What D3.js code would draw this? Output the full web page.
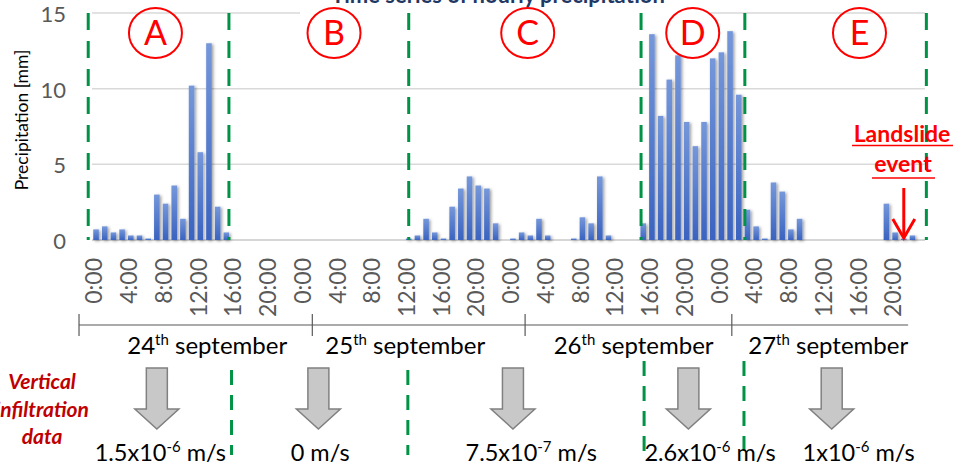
<!DOCTYPE html>
<html><head><meta charset="utf-8">
<script src="https://cdn.jsdelivr.net/npm/d3@7"></script>
<style>body{margin:0;background:#fff;overflow:hidden}svg{display:block;font-family:Lato,"Open Sans",sans-serif}</style>
</head><body><svg id="c" width="955" height="472"></svg>
<script>
// ---- data ----
const hours = d3.range(96); // 0:00 24th Sept ... 23:00 27th Sept
const precip = [
  0.7,0.9,0.5,0.7,0.3,0.3,0.1,3.0,2.4,3.6,1.4,10.2,5.8,13.0,2.2,0.5,
  0,0,0,0,0,0,0,0,0,0,0,0,0,0,0,0,0,0,0,0,
  0.1,0.3,1.4,0.5,0.1,2.2,3.4,4.2,3.6,3.4,1.1,0,0.1,0.5,0.3,1.4,0.3,0,0,0.1,1.5,1.1,4.2,0.3,0,0,0,
  1.1,13.6,8.2,10.6,12.2,7.8,6.2,7.8,12.0,12.4,13.8,9.6,2.0,0.9,0.1,3.8,3.2,0.7,1.4,
  0,0,0,0,0,0,0,0,0,
  2.4,0.5,0.1,0.3,0
];
const tickHours = d3.range(0, 96, 4);
const tickLabels = ["0:00","4:00","8:00","12:00","16:00","20:00"];
const yTicks = [0,5,10,15];
const days = ["24","25","26","27"];
const dayLabelHours = [12.8, 35.6, 61.9, 84.3];
const dayDividerHours = [-1.96, 24.9, 49.4, 73.2, 93.5];
const periods = ["A","B","C","D","E"];
const periodHours = [6.84, 27.4, 49.7, 68.7, 87.9];
const periodBoundsTop = [-0.9, 15.3, 36.0, 62.75, 74.7, 95.6];
const periodBoundsLow = [15.6, 35.9, 63.1, 74.6];
const velMant = ["1.5x10","0","7.5x10","2.6x10","1x10"];
const velExp  = ["-6", null, "-7", "-6", "-6"];
const velHours = [7.4, 25.8, 50.1, 70.7, 87.8];
const arrowHours = [7.0, 25.6, 48.0, 68.2, 84.7];
const landslideHour = 93.0;

// ---- chart ----
const svg = d3.select("#c");
const defs = svg.append("defs");
const grad = defs.append("linearGradient").attr("id","bg").attr("x1",0).attr("y1",0).attr("x2",0).attr("y2",1);
grad.append("stop").attr("offset","0%").attr("stop-color","#7597da");
grad.append("stop").attr("offset","100%").attr("stop-color","#3a63c0");
const f = defs.append("filter").attr("id","sh").attr("x","-50%").attr("y","-10%").attr("width","250%").attr("height","130%");
f.append("feDropShadow").attr("dx",1.5).attr("dy",1).attr("stdDeviation",1.8).attr("flood-color","#000").attr("flood-opacity",0.4);

const x = d3.scaleBand().domain(hours).range([91.7, 925.5]).paddingInner(0.36).paddingOuter(0.18);
const xh = d3.scaleLinear().domain([0,95]).range([x(0)+x.bandwidth()/2, x(95)+x.bandwidth()/2]);
const y = d3.scaleLinear().domain([0,15]).range([240,13]);
const grey = "#595959";

// gridlines
svg.append("g").selectAll("line").data(yTicks.slice(1)).join("line")
  .attr("x1",92).attr("x2",925).attr("y1",d=>y(d)).attr("y2",d=>y(d))
  .attr("stroke","#d9d9d9").attr("stroke-width",1.5);
svg.append("line").attr("x1",92).attr("x2",925).attr("y1",y(0)).attr("y2",y(0)).attr("stroke","#c9c9c9").attr("stroke-width",1.5);

// y ticks
svg.append("g").selectAll("text").data(yTicks).join("text")
  .attr("x",66).attr("y",d=>y(d)+1).attr("dy","0.36em").attr("text-anchor","end")
  .attr("font-size",22).attr("fill",grey).text(d=>d);
svg.append("text").attr("transform","translate(28,120) rotate(-90)").attr("text-anchor","middle")
  .attr("font-size",17.5).attr("fill","#000").text("Precipitation [mm]");

// bars
svg.append("g").attr("filter","url(#sh)").selectAll("rect").data(hours.filter(h=>precip[h]>0)).join("rect")
  .attr("x",h=>x(h)).attr("width",x.bandwidth())
  .attr("y",h=>y(precip[h])).attr("height",h=>y(0)-y(precip[h]))
  .attr("fill","url(#bg)");

// title (partially cut off at top, as in the reference)
svg.append("rect").attr("x",300).attr("y",0).attr("width",410).attr("height",14).attr("fill","#fff");
svg.append("text").attr("x",498).attr("y",3).attr("text-anchor","middle").attr("font-weight","bold")
  .attr("font-size",22).attr("fill","#1f3864").text("Time series of hourly precipitation");

// x tick labels
svg.append("g").selectAll("text").data(tickHours).join("text")
  .attr("transform",h=>`translate(${xh(h)-2},258) rotate(-90)`).attr("text-anchor","end").attr("dy","0.36em")
  .attr("font-size",23).attr("fill",grey).text((h,i)=>tickLabels[i%6]);

// day axis
svg.append("line").attr("x1",xh(dayDividerHours[0])).attr("x2",xh(dayDividerHours[4])).attr("y1",325).attr("y2",325).attr("stroke","#595959").attr("stroke-width",1.2);
svg.append("g").selectAll("line").data(dayDividerHours.slice(0,4)).join("line")
  .attr("x1",h=>xh(h)).attr("x2",h=>xh(h)).attr("y1",314).attr("y2",336).attr("stroke","#595959").attr("stroke-width",1.2);
const dl = svg.append("g").selectAll("text").data(days).join("text")
  .attr("x",(d,i)=>xh(dayLabelHours[i])).attr("y",354).attr("text-anchor","middle").attr("font-size",24).attr("fill","#000");
dl.append("tspan").text(d=>d);
dl.append("tspan").attr("dy",-9).attr("font-size",15).text("th");
dl.append("tspan").attr("dy",9).text(" september");

// period dashed lines
const green = "#009245";
svg.append("g").selectAll("line").data(periodBoundsTop).join("line")
  .attr("x1",h=>xh(h)).attr("x2",h=>xh(h)).attr("y1",13).attr("y2",240)
  .attr("stroke",green).attr("stroke-width",3).attr("stroke-dasharray","17,11");
svg.append("g").selectAll("line").data(periodBoundsLow).join("line")
  .attr("x1",h=>xh(h)).attr("x2",h=>xh(h)).attr("y1",(h,i)=>i<2?370:361).attr("y2",455)
  .attr("stroke",green).attr("stroke-width",3).attr("stroke-dasharray","15,10");

// period circles
const pc = svg.append("g").selectAll("g").data(periods).join("g")
  .attr("transform",(d,i)=>`translate(${xh(periodHours[i])},33)`);
pc.append("ellipse").attr("rx",26.5).attr("ry",25).attr("fill","none").attr("stroke","#ff0000").attr("stroke-width",2);
pc.append("text").attr("text-anchor","middle").attr("dy","0.36em").attr("font-size",34).attr("fill","#ff0000").text(d=>d);

// landslide annotation
const lx = xh(landslideHour);
svg.append("text").attr("x",902).attr("y",142).attr("text-anchor","middle").attr("font-weight","bold").attr("font-size",23).attr("fill","#ff0000").text("Landslide");
svg.append("line").attr("x1",852).attr("x2",953).attr("y1",145.5).attr("y2",145.5).attr("stroke","#ff0000").attr("stroke-width",1.5);
svg.append("text").attr("x",903).attr("y",172).attr("text-anchor","middle").attr("font-weight","bold").attr("font-size",23).attr("fill","#ff0000").text("event");
svg.append("line").attr("x1",872).attr("x2",935).attr("y1",178).attr("y2",178).attr("stroke","#ff0000").attr("stroke-width",1.5);
svg.append("line").attr("x1",lx).attr("x2",lx).attr("y1",188).attr("y2",236).attr("stroke","#ff0000").attr("stroke-width",3);
svg.append("path").attr("d",`M${lx-11},${219}L${lx},${238}L${lx+11},${219}`).attr("fill","none").attr("stroke","#ff0000").attr("stroke-width",3);

// vertical infiltration label
const vl = svg.append("text").attr("text-anchor","middle").attr("font-style","italic").attr("font-weight","bold").attr("font-size",21).attr("fill","#c00000");
["Vertical","infiltration","data"].forEach((t,i)=>vl.append("tspan").attr("x",42).attr("y",389+i*27.5).text(t));

// block arrows
svg.append("g").selectAll("path").data(arrowHours).join("path")
  .attr("d",h=>{const c=xh(h);return `M${c-10.5},368H${c+10.5}V409H${c+22}L${c},429L${c-22},409H${c-10.5}Z`;})
  .attr("fill","#c8c8c8").attr("stroke","#808080").attr("stroke-width",1.5);

// velocity texts
const vt = svg.append("g").selectAll("text").data(velMant).join("text")
  .attr("x",(d,i)=>xh(velHours[i])).attr("y",461).attr("text-anchor","middle").attr("font-size",23.5).attr("fill","#000");
vt.each(function(d,i){
  const t=d3.select(this);
  t.append("tspan").text(d);
  if(velExp[i]){t.append("tspan").attr("dy",-9).attr("font-size",15).text(velExp[i]);t.append("tspan").attr("dy",9).text(" m/s");}
  else t.append("tspan").text(" m/s");
});
</script></body></html>
